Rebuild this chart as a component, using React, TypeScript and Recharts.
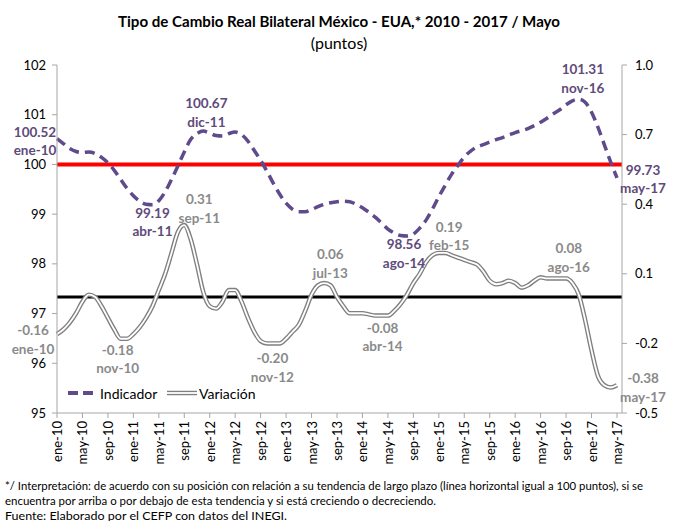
import React from "react";
import { LineChart, Line, XAxis, YAxis, ReferenceLine, LabelList } from "recharts";

const monthNames = ["ene", "feb", "mar", "abr", "may", "jun", "jul", "ago", "sep", "oct", "nov", "dic"];
const years = ["10", "11", "12", "13", "14", "15", "16", "17"];

const categories: string[] = [];
years.forEach((y) =>
  monthNames.forEach((m, i) => {
    if (y === "17" && i > 4) return;
    categories.push(`${m}-${y}`);
  })
);

const indicador = [
  100.52, 100.42, 100.32, 100.26, 100.24, 100.25, 100.22, 100.14, 100.03, 99.88, 99.7, 99.52,
  99.37, 99.26, 99.2, 99.19, 99.27, 99.45, 99.7, 99.97, 100.25, 100.5, 100.62, 100.67,
  100.63, 100.58, 100.57, 100.62, 100.65, 100.6, 100.47, 100.28, 100.08, 99.86, 99.62, 99.4,
  99.22, 99.1, 99.05, 99.05, 99.09, 99.15, 99.2, 99.23, 99.25, 99.26, 99.25, 99.2,
  99.13, 99.04, 98.94, 98.82, 98.7, 98.62, 98.57, 98.56, 98.6, 98.72, 98.88, 99.1,
  99.35, 99.58, 99.8, 99.98, 100.15, 100.27, 100.35, 100.4, 100.45, 100.5, 100.54, 100.59,
  100.64, 100.68, 100.72, 100.78, 100.85, 100.93, 101.02, 101.1, 101.2, 101.28, 101.31, 101.25,
  101.05, 100.75, 100.4, 100.05, 99.73,
];

const variacion = [
  -0.16, -0.14, -0.11, -0.07, -0.02, 0.01, 0.0, -0.04, -0.09, -0.14, -0.18, -0.18,
  -0.16, -0.13, -0.09, -0.04, 0.03, 0.1, 0.19, 0.28, 0.31, 0.25, 0.14, 0.02,
  -0.04, -0.05, -0.02, 0.03, 0.03, -0.02, -0.09, -0.15, -0.19, -0.2, -0.2, -0.2,
  -0.18, -0.15, -0.12, -0.06, 0.01, 0.05, 0.06, 0.05, 0.0, -0.04, -0.07, -0.07,
  -0.07, -0.075, -0.08, -0.08, -0.08, -0.06, -0.03, 0.01, 0.06, 0.1, 0.15, 0.18,
  0.19, 0.19, 0.18, 0.17, 0.16, 0.15, 0.14, 0.11, 0.07, 0.055, 0.06, 0.07,
  0.06, 0.04, 0.05, 0.07, 0.085, 0.08, 0.08, 0.08, 0.08, 0.06, 0.01, -0.1,
  -0.23, -0.34, -0.38, -0.39, -0.38,
];

const leftTicks = [95, 96, 97, 98, 99, 100, 101, 102];
const rightTicks = [-0.5, -0.2, 0.1, 0.4, 0.7, 1.0];

// which points get a value/date label
const indicadorLabels: Record<string, string> = {
  "ene-10": "100.52", "abr-11": "99.19", "dic-11": "100.67",
  "ago-14": "98.56", "nov-16": "101.31", "may-17": "99.73",
};
const variacionLabels: Record<string, string> = {
  "ene-10": "-0.16", "nov-10": "-0.18", "sep-11": "0.31", "nov-12": "-0.20", "jul-13": "0.06",
  "abr-14": "-0.08", "feb-15": "0.19", "ago-16": "0.08", "may-17": "-0.38",
};

// label placement relative to the point
const indOffsets: Record<string, [number, number]> = {
  "ene-10": [-22, -7], "abr-11": [0, 8], "dic-11": [3, -28],
  "ago-14": [-3, 8], "nov-16": [4, -30], "may-17": [26, -8],
};
const varOffsets: Record<string, [number, number]> = {
  "ene-10": [-24, -4], "nov-10": [-3, 11], "sep-11": [15, -26], "nov-12": [-1, 15], "jul-13": [6, -29],
  "abr-14": [1, 12], "feb-15": [4, -26], "ago-16": [9, -30], "may-17": [26, -7],
};

const data = categories.map((c, i) => ({ label: c, indicador: indicador[i], variacion: variacion[i] }));

const FONT = "Lato, 'Noto Sans', sans-serif";
const PURPLE = "#5f4b8b";
const LABEL_PURPLE = "#604a7b";
const GRAY = "#8a8a8a";

const makeLabel =
  (texts: Record<string, string>, offsets: Record<string, [number, number]>, color: string) =>
  (props: any) => {
    const { x, y, index } = props;
    const cat = categories[index];
    if (!texts[cat]) return null;
    const [dx, dy] = offsets[cat];
    return (
      <text
        key={`lbl-${cat}-${color}`}
        fontFamily={FONT}
        fontSize={13.5}
        fontWeight={700}
        fill={color}
        textAnchor="middle"
        dominantBaseline="central"
      >
        <tspan x={x + dx} y={y + dy}>{texts[cat]}</tspan>
        <tspan x={x + dx} y={y + dy + 18.5}>{cat}</tspan>
      </text>
    );
  };

const XTick = ({ x, y, payload }: any) => (
  <text
    x={x}
    y={y}
    transform={`rotate(-90 ${x} ${y})`}
    textAnchor="end"
    dominantBaseline="central"
    fontFamily={FONT}
    fontSize={13}
    fill="#000"
  >
    {payload.value}
  </text>
);

export default function App() {
  return (
    <div style={{ position: "absolute", left: 0, top: 0, width: 673, height: 521, background: "#fff" }}>
      <LineChart width={673} height={521} data={data} margin={{ top: 65, right: 6, bottom: 60, left: 17 }}>
        <XAxis
          dataKey="label"
          interval={3}
          height={48}
          tick={<XTick />}
          tickSize={5}
          tickMargin={3}
          padding={{ left: 0, right: 5 }}
          stroke="#a6a6a6"
        />
        <YAxis
          yAxisId="left"
          domain={[95, 102]}
          ticks={leftTicks}
          width={40}
          tickSize={5}
          tickMargin={6}
          stroke="#a6a6a6"
          tick={{ fill: "#000", fontSize: 13, fontFamily: FONT }}
        />
        <YAxis
          yAxisId="right"
          orientation="right"
          domain={[-0.5, 1.0]}
          ticks={rightTicks}
          width={45}
          tickSize={5}
          tickMargin={8}
          stroke="#a6a6a6"
          tickFormatter={(v: number) => v.toFixed(1)}
          tick={{ fill: "#000", fontSize: 13, fontFamily: FONT }}
        />
        <ReferenceLine yAxisId="left" y={100} stroke="#ff0000" strokeWidth={4} />
        <ReferenceLine yAxisId="right" y={0} stroke="#000" strokeWidth={3} />
        <Line
          yAxisId="right"
          type="monotone"
          dataKey="variacion"
          stroke="#7f7f7f"
          strokeWidth={4.5}
          dot={false}
          isAnimationActive={false}
        />
        <Line
          yAxisId="right"
          type="monotone"
          dataKey="variacion"
          stroke="#fff"
          strokeWidth={1.8}
          dot={false}
          isAnimationActive={false}
        >
          <LabelList content={makeLabel(variacionLabels, varOffsets, GRAY)} />
        </Line>
        <Line
          yAxisId="left"
          type="monotone"
          dataKey="indicador"
          stroke={PURPLE}
          strokeWidth={3.5}
          strokeDasharray="10 6"
          dot={false}
          isAnimationActive={false}
        >
          <LabelList content={makeLabel(indicadorLabels, indOffsets, LABEL_PURPLE)} />
        </Line>
      </LineChart>
      <svg
        width={673}
        height={521}
        style={{ position: "absolute", left: 0, top: 0, pointerEvents: "none" }}
        fontFamily={FONT}
      >
        <text x={339} y={20} textAnchor="middle" dominantBaseline="central" fontSize={16} fontWeight={700} fill="#000" textLength={442} lengthAdjust="spacingAndGlyphs">
          Tipo de Cambio Real Bilateral México - EUA,* 2010 - 2017 / Mayo
        </text>
        <text x={339} y={42} textAnchor="middle" dominantBaseline="central" fontSize={16} fill="#000">
          (puntos)
        </text>
        <line x1={68} y1={393} x2={96} y2={393} stroke={PURPLE} strokeWidth={4} strokeDasharray="10 5" />
        <text x={100} y={393} dominantBaseline="central" fontSize={14} fill="#000">Indicador</text>
        <line x1={167} y1={393} x2={197} y2={393} stroke="#7f7f7f" strokeWidth={4.5} />
        <line x1={167} y1={393} x2={197} y2={393} stroke="#fff" strokeWidth={1.8} />
        <text x={199} y={393} dominantBaseline="central" fontSize={14} fill="#000">Variación</text>
        <text x={5} y={485} dominantBaseline="central" fontSize={11} fill="#000" textLength={638} lengthAdjust="spacingAndGlyphs">
          */ Interpretación: de acuerdo con su posición con relación a su tendencia de largo plazo (línea horizontal igual a 100 puntos), si se
        </text>
        <text x={5} y={500} dominantBaseline="central" fontSize={11} fill="#000" textLength={431} lengthAdjust="spacingAndGlyphs">
          encuentra por arriba o por debajo de esta tendencia y si está creciendo o decreciendo.
        </text>
        <text x={5} y={515} dominantBaseline="central" fontSize={11.5} fill="#000" textLength={282} lengthAdjust="spacingAndGlyphs">
          Fuente: Elaborado por el CEFP con datos del INEGI.
        </text>
      </svg>
    </div>
  );
}
